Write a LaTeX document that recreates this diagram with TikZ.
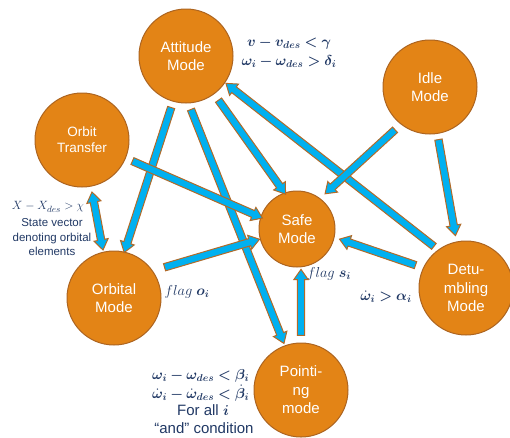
\documentclass[tikz,border=0pt]{standalone}
\usepackage{amsmath}
\usepackage{fontspec}
\setmainfont{Liberation Sans}
\usepackage{bm}
\usetikzlibrary{shapes.arrows,calc}
\definecolor{orfill}{RGB}{227,132,22}
\definecolor{orline}{RGB}{172,100,32}
\definecolor{arcyan}{RGB}{0,176,240}
\definecolor{arbrown}{RGB}{178,106,40}
\definecolor{navy}{RGB}{32,56,100}
\tikzset{
  mode/.style={circle, fill=orfill, draw=orline, line width=1pt, minimum size=94pt,
    inner sep=0pt, text=white, align=center, font=\fontsize{15}{18.5}\selectfont},
  lbl/.style={text=navy, inner sep=0pt, align=center},
  mathlbl/.style={lbl, font=\fontsize{14.5}{19}\selectfont},
  smalllbl/.style={lbl, font=\fontsize{11.5}{14.5}\selectfont},
  barrowshape/.style={single arrow, draw=arbrown, fill=arcyan, line width=1pt,
    inner xsep=0pt, inner ysep=3.2pt, outer sep=0pt, minimum width=0pt,
    single arrow head extend=3.5pt, single arrow tip angle=70, anchor=center},
  dbarrowshape/.style={double arrow, draw=arbrown, fill=arcyan, line width=1pt,
    inner xsep=0pt, inner ysep=3.2pt, outer sep=0pt, minimum width=0pt,
    double arrow head extend=3.5pt, double arrow tip angle=70, anchor=center}
}
\newcommand\barrow[6][barrowshape]{%
  \path let \p1=($(#3)+(#4)$), \p2=($(#5)+(#6)$),
    \n1={atan2(\y2-\y1,\x2-\x1)}, \n2={veclen(\x2-\x1,\y2-\y1)} in
    node[#1, minimum height=\n2, rotate=\n1] (#2) at ($(\p1)!0.5!(\p2)$) {};}
\begin{document}
\begin{tikzpicture}[x=1pt,y=-1pt]
\useasboundingbox (0,0) rectangle (510,437);
% labels
\node[mathlbl] (cAtt) at (289,52.5) {$\bm{v-v_{des}<\gamma}$\\$\bm{\omega_i-\omega_{des}>\delta_i}$};
\node[mathlbl, font=\fontsize{13}{17}\selectfont] (cOrb) at (48,207) {$X-X_{des}>\chi$};
\node[smalllbl] (cOrbT) at (52,237.5) {State vector\\denoting orbital\\elements};
\node[mathlbl] (cFo) at (187,292) {$flag\ \bm{o_i}$};
\node[mathlbl] (cFs) at (329,274) {$flag\ \bm{s_i}$};
\node[mathlbl] (cDet) at (386,297) {$\bm{\dot{\omega}_i>\alpha_i}$};
\node[mathlbl, anchor=west] (cP1) at (152,376) {$\bm{\omega_i-\omega_{des}<\beta_i}$};
\node[mathlbl, anchor=west] (cP2) at (152,393) {$\bm{\dot{\omega}_i-\dot{\omega}_{des}<\dot{\beta}_i}$};
\node[lbl, font=\fontsize{15}{18}\selectfont] (cP3) at (203,410) {For all $\bm{i}$};
\node[lbl, font=\fontsize{15}{18}\selectfont] (cP4) at (204,428) {“and” condition};
% modes
\node[mode] (att) at (186,56) {Attitude\\Mode};
\node[mode] (idle) at (430,87) {Idle\\Mode};
\node[mode, font=\fontsize{13.5}{16}\selectfont] (orbT) at (82,140) {Orbit\\Transfer};
\node[mode, minimum size=76pt] (safe) at (297,229) {Safe\\Mode};
\node[mode] (det) at (466,288) {Detu-\\mbling\\Mode};
\node[mode] (orbM) at (114,298) {Orbital\\Mode};
\node[mode] (point) at (301,390) {Pointi-\\ng\\mode};
% arrows
\barrow{a1}{att}{-14,49}{orbM}{11,-48}
\barrow{a2}{att}{4,51}{point}{-18,-49}
\barrow{a3}{att}{31,42}{safe}{-13,-37}
\barrow{a4}{det}{-30,-40}{att}{42,29}
\barrow{a5}{idle}{-33,41}{safe}{30,-37}
\barrow{a6}{idle}{8,50}{det}{-11,-55}
\barrow{a7}{det}{-48,-22}{safe}{45,11}
\barrow{a8}{orbT}{48,20}{safe}{-37,-12}
\barrow{a9}{orbM}{48,-30}{safe}{-40,11}
\barrow{a10}{point}{0,-52}{safe}{4,43}
\barrow[dbarrowshape]{a11}{orbT}{10,52}{orbM}{-11,-48}
\end{tikzpicture}
\end{document}
